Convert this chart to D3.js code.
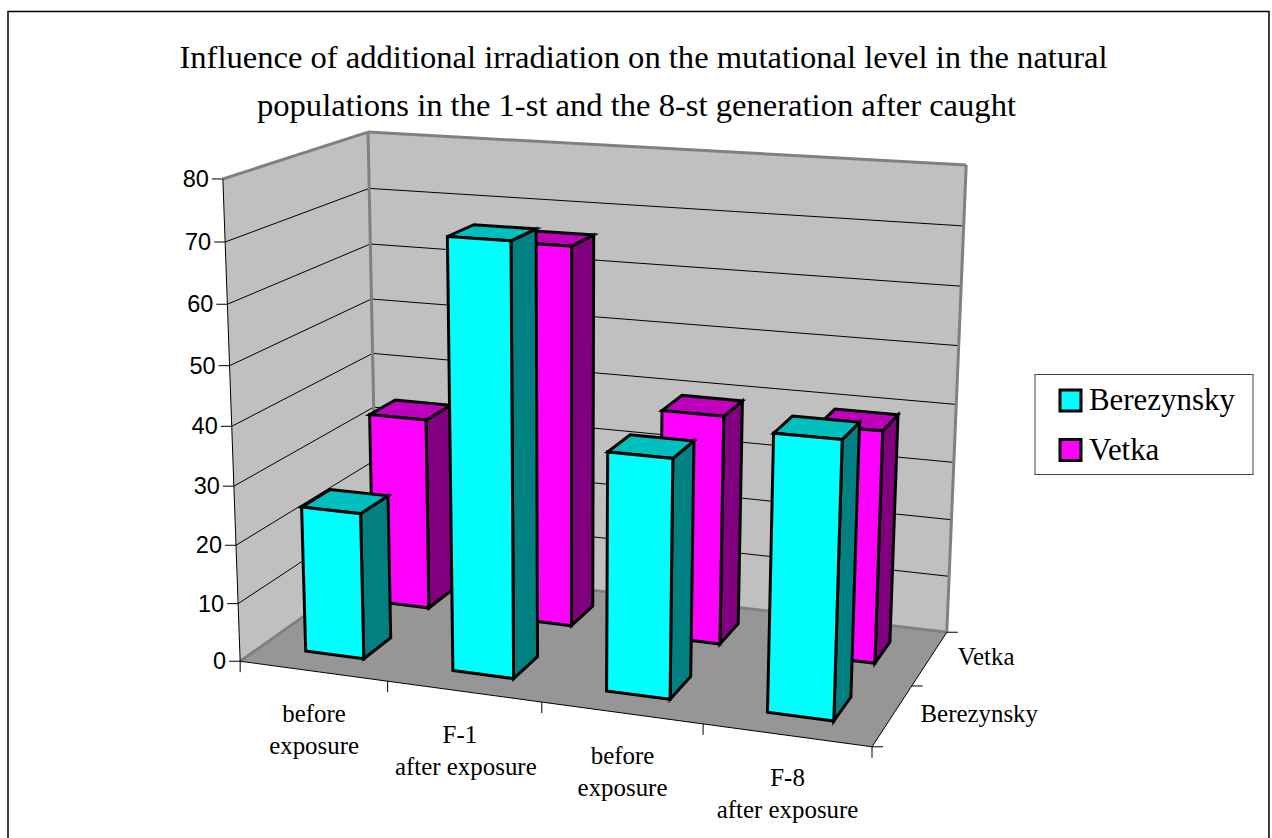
<!DOCTYPE html>
<html>
<head>
<meta charset="utf-8">
<script src="https://d3js.org/d3.v7.min.js"></script>
<style>
    html, body { margin: 0; padding: 0; background: #fff; }
    svg { display: block; }
</style>
</head>
<body>
<svg id="svg" width="1272" height="838"></svg>
<script>
// chart data
var categories = [["before", "exposure"], ["F-1", "after exposure"], ["before", "exposure"], ["F-8", "after exposure"]];
var seriesNames = ["Berezynsky", "Vetka"];
var berezynsky = [25, 71.7, 39.5, 45];
var vetka = [34, 66, 39.5, 39.5];
var seriesValues = [berezynsky, vetka];
var valueTicks = [0, 10, 20, 30, 40, 50, 60, 70, 80];
var titleLines = ["Influence of additional irradiation on the mutational level in the natural",
                  "populations in the 1-st and the 8-st generation after caught"];

var faceColors = [
    {front: "#00ffff", top: "#00bfbf", side: "#008080"},
    {front: "#ff00ff", top: "#bf00bf", side: "#800080"}
];

var svg = d3.select("svg");

// scales into the unit cube of the plot box
var xIdx = d3.range(categories.length);
var zIdx = d3.range(seriesNames.length);
var xBand = d3.scaleBand().domain(xIdx).range([0, 1]).paddingInner(0.6).paddingOuter(0.3);
var zBand = d3.scaleBand().domain(zIdx).range([0, 1]).paddingInner(0.6).paddingOuter(0.3);
var yScale = d3.scaleLinear().domain([0, 80]).range([0, 1]);

// where the corners of the box land on screen, [u, v, w, sx, sy]
var boxCorners = [
    [0, 0, 0, 241, 661],
    [0, 0, 1, 222, 179],
    [0, 1, 0, 376, 565],
    [0, 1, 1, 369, 132],
    [1, 1, 0, 947, 632],
    [1, 1, 1, 966, 165],
    [1, 0, 0, 872, 747]
];

// least squares fit of the perspective matrix through those corners
function fitCamera(pts){
    var rows = [], rhs = [];
    pts.forEach(function(p){
        rows.push([p[0], p[1], p[2], 1, 0, 0, 0, 0, -p[3]*p[0], -p[3]*p[1], -p[3]*p[2]]);
        rhs.push(p[3]);
        rows.push([0, 0, 0, 0, p[0], p[1], p[2], 1, -p[4]*p[0], -p[4]*p[1], -p[4]*p[2]]);
        rhs.push(p[4]);
    });
    var n = 11, m = [];
    for(var i=0;i<n;i++){
        m.push(new Array(n+1).fill(0));
        for(var r=0;r<rows.length;r++){
            for(var j=0;j<n;j++) m[i][j] += rows[r][i]*rows[r][j];
            m[i][n] += rows[r][i]*rhs[r];
        }
    }
    for(var c=0;c<n;c++){
        var best = c;
        for(var k=c+1;k<n;k++) if(Math.abs(m[k][c])>Math.abs(m[best][c])) best = k;
        var tmp = m[c]; m[c] = m[best]; m[best] = tmp;
        for(var k2=0;k2<n;k2++){
            if(k2==c) continue;
            var f = m[k2][c]/m[c][c];
            for(var j2=c;j2<=n;j2++) m[k2][j2] -= f*m[c][j2];
        }
    }
    return m.map(function(row,i){ return row[n]/row[i]; });
}
var cam = fitCamera(boxCorners);

function project(u, v, w){
    var d = cam[8]*u + cam[9]*v + cam[10]*w + 1;
    return [(cam[0]*u + cam[1]*v + cam[2]*w + cam[3])/d,
            (cam[4]*u + cam[5]*v + cam[6]*w + cam[7])/d];
}

function poly(pts, fill, stroke, sw){
    svg.append("polygon")
        .attr("points", pts.map(function(p){ return p[0].toFixed(1)+","+p[1].toFixed(1); }).join(" "))
        .attr("fill", fill)
        .attr("stroke", stroke)
        .attr("stroke-width", sw)
        .attr("stroke-linejoin", "miter");
}
function line(a, b, color, sw){
    svg.append("line")
        .attr("x1", a[0]).attr("y1", a[1])
        .attr("x2", b[0]).attr("y2", b[1])
        .attr("stroke", color)
        .attr("stroke-width", sw);
}

// chart frame, the bottom edge runs off the page
svg.append("rect").attr("x", 8).attr("y", 11.5).attr("width", 1261).attr("height", 840)
    .attr("fill", "#fff").attr("stroke", "#000").attr("stroke-width", 1.5);

// title, the second line sits a little left of centre in the original
svg.selectAll("text.title").data(titleLines).enter().append("text")
    .attr("class", "title")
    .attr("x", function(d,i){ return i==0 ? 643.5 : 636.5; })
    .attr("y", function(d,i){ return 68 + i*48; })
    .attr("text-anchor", "middle")
    .attr("font-family", "'Liberation Serif'")
    .attr("font-size", 32.6)
    .attr("fill", "#000")
    .text(function(d){ return d; });

// walls and floor
poly([project(0,0,0), project(0,1,0), project(0,1,1), project(0,0,1)], "#c0c0c0", "none", 0);
poly([project(0,1,0), project(1,1,0), project(1,1,1), project(0,1,1)], "#c0c0c0", "none", 0);
poly([project(0,0,0), project(1,0,0), project(1,1,0), project(0,1,0)], "#969696", "none", 0);

// gridlines
valueTicks.forEach(function(t){
    if(t==0 || t==80) return;
    var w = yScale(t);
    line(project(0,0,w), project(0,1,w), "#000", 1);
    line(project(0,1,w), project(1,1,w), "#000", 1);
});

// gray edges of the walls
var edgeGray = "#808080";
line(project(0,0,1), project(0,1,1), edgeGray, 3);
line(project(0,1,1), project(1,1,1), edgeGray, 3);
line(project(0,1,1), project(0,1,0), edgeGray, 3);
line(project(1,1,1), project(1,1,0), edgeGray, 3);
line(project(0,0,0), project(0,1,0), edgeGray, 3);
line(project(0,1,0), project(1,1,0), edgeGray, 3);

// axes
line(project(0,0,0), project(0,0,1), "#000", 1);
line(project(0,0,0), project(1,0,0), "#000", 1);
line(project(1,0,0), project(1,1,0), "#000", 1);

valueTicks.forEach(function(t){
    var p = project(0,0,yScale(t));
    line([p[0]-11,p[1]], p, "#000", 1);
    svg.append("text")
        .attr("x", p[0]-14)
        .attr("y", p[1]+8)
        .attr("text-anchor", "end")
        .attr("font-family", "'Liberation Sans'")
        .attr("font-size", 23.5)
        .attr("fill", "#000")
        .text(t);
});

// category ticks and labels
d3.range(categories.length+1).forEach(function(i){
    var p = project(i/categories.length, 0, 0);
    line(p, [p[0],p[1]+11], "#000", 1);
});
categories.forEach(function(lines,i){
    var p = project(xBand(i)+xBand.bandwidth()/2, 0, 0);
    lines.forEach(function(s,j){
        svg.append("text")
            .attr("x", p[0] + ((i==1 && j==0) ? -4 : (i==1 ? 2 : 1)))
            .attr("y", p[1]+51+j*32)
            .attr("text-anchor", "middle")
            .attr("font-family", "'Liberation Serif'")
            .attr("font-size", 24.9)
            .attr("fill", "#000")
            .text(s);
    });
});

// depth axis ticks and labels
d3.range(seriesNames.length+1).forEach(function(i){
    var p = project(1, i/seriesNames.length, 0);
    line(p, [p[0]+11,p[1]], "#000", 1);
});
seriesNames.forEach(function(name,i){
    var p = project(1, zBand(i)+zBand.bandwidth()/2, 0);
    svg.append("text")
        .attr("x", p[0]+28)
        .attr("y", p[1]+7)
        .attr("font-family", "'Liberation Serif'")
        .attr("font-size", 24.9)
        .attr("fill", "#000")
        .text(name);
});

// bars, back row first
zIdx.slice().reverse().forEach(function(s){
    xIdx.forEach(function(i){
        var u0 = xBand(i), u1 = u0 + xBand.bandwidth();
        var v0 = zBand(s), v1 = v0 + zBand.bandwidth();
        var w = yScale(seriesValues[s][i]);
        var col = faceColors[s];
        poly([project(u1,v0,0), project(u1,v1,0), project(u1,v1,w), project(u1,v0,w)], col.side, "#000", 3);
        poly([project(u0,v0,w), project(u1,v0,w), project(u1,v1,w), project(u0,v1,w)], col.top, "#000", 3);
        poly([project(u0,v0,0), project(u1,v0,0), project(u1,v0,w), project(u0,v0,w)], col.front, "#000", 3);
    });
});

// legend
svg.append("rect").attr("x", 1035).attr("y", 374.5).attr("width", 218).attr("height", 100)
    .attr("fill", "#fff").attr("stroke", "#444").attr("stroke-width", 1);
seriesNames.forEach(function(name,i){
    svg.append("rect")
        .attr("x", 1060).attr("y", 390 + i*49.5)
        .attr("width", 21).attr("height", 21)
        .attr("fill", faceColors[i].front)
        .attr("stroke", "#000").attr("stroke-width", 3);
    svg.append("text")
        .attr("x", 1089).attr("y", 410 + i*50)
        .attr("font-family", "'Liberation Serif'")
        .attr("font-size", 30.9)
        .attr("fill", "#000")
        .text(name);
});
</script>
</body>
</html>
